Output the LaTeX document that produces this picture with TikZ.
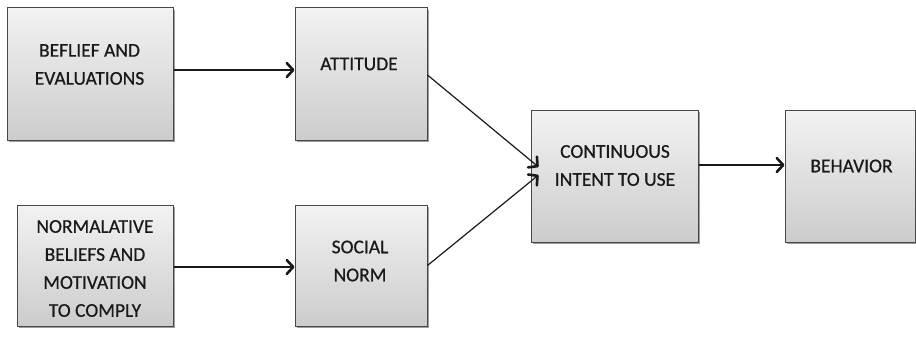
\documentclass[tikz,border=0pt]{standalone}
\usepackage{fontspec}
\setmainfont{Carlito}
\newfontfamily\lblfont{Carlito}[FakeBold=0.6]
\usetikzlibrary{arrows.meta,shadows,calc}
\begin{document}
\begin{tikzpicture}[x=1pt,y=-1pt,
  box/.style={draw=black!72,line width=1pt,top color=black!5,bottom color=black!20,
    inner sep=0pt,
    drop shadow={shadow xshift=1.5pt,shadow yshift=-2pt,fill=black!55,opacity=0.7}},
  lbl/.style={font=\lblfont\fontsize{19.5}{28}\selectfont,text=black!90,align=center,inner sep=0pt},
  arr/.style={line width=1.2pt,draw=black!90,
    -{Straight Barb[length=6.5pt,width=14pt,line width=2.6pt,round]}}]
\useasboundingbox (0,0) rectangle (916,337);
% boxes
\node[box,minimum width=166pt,minimum height=132pt] (belief) at (90,74) {};
\node[box,minimum width=132pt,minimum height=132pt] (att) at (361,74) {};
\node[box,minimum width=156pt,minimum height=121pt] (norm) at (95,265.5) {};
\node[box,minimum width=132pt,minimum height=121pt] (social) at (361,265.5) {};
\node[box,minimum width=167pt,minimum height=132pt] (cont) at (614.5,176) {};
\node[box,minimum width=130pt,minimum height=132pt] (beh) at (850,176) {};
% labels
\node[lbl] (tbelief) at (89.5,64.5) {BEFLIEF AND\\EVALUATIONS};
\node[lbl] (tatt) at (359,64) {ATTITUDE};
\node[lbl] (tnorm) at (95,268.5) {NORMALATIVE\\BELIEFS AND\\MOTIVATION\\TO COMPLY};
\node[lbl] (tsocial) at (360,261) {SOCIAL\\NORM};
\node[lbl] (tcont) at (615,165.5) {CONTINUOUS\\INTENT TO USE};
\node[lbl] (tbeh) at (851.5,166) {BEHAVIOR};
% arrow tips that reach into the target box
\coordinate (cin1) at ($(cont.west)+(8,-9)$);
\coordinate (cin2) at ($(cont.west)+(8,-1)$);
% connectors
\draw[arr] ([yshift=4pt]belief.east) -- ([yshift=4pt]att.west);
\draw[arr] ([yshift=-1.5pt]norm.east) -- ([yshift=-1.5pt]social.west);
\draw[arr] ([yshift=-1pt]att.east) -- (cin1);
\draw[arr] (social.east) -- (cin2);
\draw[arr] ([yshift=11pt]cont.east) -- ([yshift=11pt]beh.west);
\end{tikzpicture}
\end{document}
